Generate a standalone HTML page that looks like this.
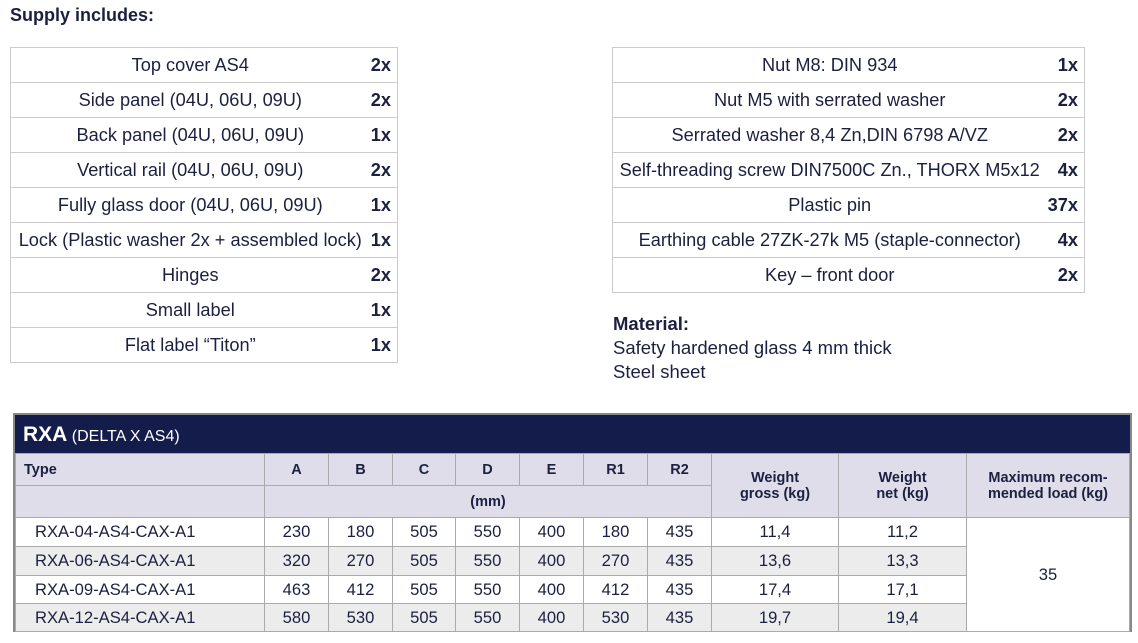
<!DOCTYPE html>
<html><head><meta charset="utf-8"><style>
*{margin:0;padding:0;box-sizing:border-box}
body{width:1138px;height:643px;background:#fff;font-family:"Liberation Sans",sans-serif;color:#1c2040;position:relative;overflow:hidden}
.t{position:absolute;border-collapse:collapse;font-size:18.2px}
.s td{border-top:1px solid #ccc;border-bottom:1px solid #ccc;height:35px;text-align:center;padding:0;white-space:nowrap}
.s td.q{text-align:right;font-weight:bold;padding-right:6px}
.s td:first-child{border-left:1px solid #ccc}
.s td:last-child{border-right:1px solid #ccc}
#h{position:absolute;left:10px;top:5px;font-weight:bold;font-size:18px}
#m{position:absolute;left:613px;top:312px;font-size:18.5px;line-height:24px}
#rx{position:absolute;left:13px;top:413px;width:1119px;height:219px;border:2px solid #888}
#bar{height:38px;background:#141c4c;color:#fff;font-size:16px;padding-left:8px;line-height:40px}
#bar b{font-size:21px}
.r{border-collapse:collapse;font-size:16.6px;width:1115px;table-layout:fixed}
.r td{border:1px solid #aaa;text-align:center;padding:0;white-space:nowrap}
.r .hd td{background:#dedde9;font-weight:bold;font-size:14.5px}
.r tr.w td{background:#fff}
.r tr.g td{background:#ececec}
.r td.mx{background:#fff!important}
</style></head><body>
<div id="h">Supply includes:</div>
<table class="t s" style="left:10px;top:47px;width:388px">
<tr><td>Top cover AS4</td><td class="q">2x</td></tr>
<tr><td>Side panel (04U, 06U, 09U)</td><td class="q">2x</td></tr>
<tr><td>Back panel (04U, 06U, 09U)</td><td class="q">1x</td></tr>
<tr><td>Vertical rail (04U, 06U, 09U)</td><td class="q">2x</td></tr>
<tr><td>Fully glass door (04U, 06U, 09U)</td><td class="q">1x</td></tr>
<tr><td>Lock (Plastic washer 2x + assembled lock)</td><td class="q">1x</td></tr>
<tr><td>Hinges</td><td class="q">2x</td></tr>
<tr><td>Small label</td><td class="q">1x</td></tr>
<tr><td>Flat label “Titon”</td><td class="q">1x</td></tr>
</table>
<table class="t s" style="left:612px;top:47px;width:473px">
<tr><td>Nut M8: DIN 934</td><td class="q">1x</td></tr>
<tr><td>Nut M5 with serrated washer</td><td class="q">2x</td></tr>
<tr><td>Serrated washer 8,4 Zn,DIN 6798 A/VZ</td><td class="q">2x</td></tr>
<tr><td>Self-threading screw DIN7500C Zn., THORX M5x12</td><td class="q">4x</td></tr>
<tr><td>Plastic pin</td><td class="q">37x</td></tr>
<tr><td>Earthing cable 27ZK-27k M5 (staple-connector)</td><td class="q">4x</td></tr>
<tr><td>Key – front door</td><td class="q">2x</td></tr>
</table>
<div id="m"><b>Material:</b><br>Safety hardened glass 4 mm thick<br>Steel sheet</div>
<div id="rx">
<div id="bar"><b>RXA</b> (DELTA X AS4)</div>
<table class="r">
<colgroup><col style="width:249px"><col style="width:64px"><col style="width:64px"><col style="width:63px"><col style="width:64px"><col style="width:64px"><col style="width:64px"><col style="width:64px"><col style="width:127px"><col style="width:128px"><col></colgroup>
<tr class="hd" style="height:32px"><td style="text-align:left;padding-left:8px">Type</td><td>A</td><td>B</td><td>C</td><td>D</td><td>E</td><td>R1</td><td>R2</td><td rowspan="2">Weight<br>gross (kg)</td><td rowspan="2">Weight<br>net (kg)</td><td rowspan="2">Maximum recom-<br>mended load (kg)</td></tr>
<tr class="hd" style="height:32px"><td></td><td colspan="7">(mm)</td></tr>
<tr class="w" style="height:29px"><td style="text-align:left;padding-left:19px">RXA-04-AS4-CAX-A1</td><td>230</td><td>180</td><td>505</td><td>550</td><td>400</td><td>180</td><td>435</td><td>11,4</td><td>11,2</td><td class="mx" rowspan="4">35</td></tr>
<tr class="g" style="height:29px"><td style="text-align:left;padding-left:19px">RXA-06-AS4-CAX-A1</td><td>320</td><td>270</td><td>505</td><td>550</td><td>400</td><td>270</td><td>435</td><td>13,6</td><td>13,3</td></tr>
<tr class="w" style="height:28px"><td style="text-align:left;padding-left:19px">RXA-09-AS4-CAX-A1</td><td>463</td><td>412</td><td>505</td><td>550</td><td>400</td><td>412</td><td>435</td><td>17,4</td><td>17,1</td></tr>
<tr class="g" style="height:28px"><td style="text-align:left;padding-left:19px">RXA-12-AS4-CAX-A1</td><td>580</td><td>530</td><td>505</td><td>550</td><td>400</td><td>530</td><td>435</td><td>19,7</td><td>19,4</td></tr>
</table>
</div>
</body></html>
